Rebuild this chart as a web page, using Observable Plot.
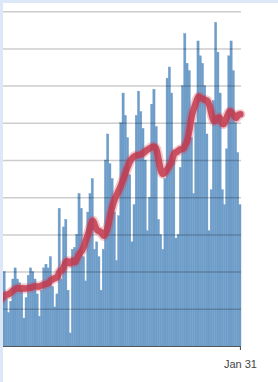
<!DOCTYPE html>
<html><head><meta charset="utf-8">
<script src="https://cdn.jsdelivr.net/npm/d3@7"></script>
<script src="https://cdn.jsdelivr.net/npm/@observablehq/plot@0.6"></script>
<style>
html,body{margin:0;padding:0;background:#dce8f8;width:278px;height:382px;overflow:hidden}
#chart{position:absolute;left:3px;top:3px;width:275px;height:379px;background:#fff}
</style></head><body><div id="chart"></div>
<script>
// Daily reported values, one per day starting at startDate (Oct 10, 2020 → Jan 31, 2021)
const startDate = "2020-10-10";
const dailyValues = [
  650, 400, 400, 750, 900, 775,
  1000, 650,
  450, 600, 900, 1050, 900, 850, 750,
  375, 650, 950, 1050, 1000, 900, 700,
  400, 750, 1050, 1100, 1050, 1200, 800,
  525, 700, 1850, 900, 1600, 1700, 750,
  175, 1300, 1325, 1500, 2050, 1850, 1200,
  875, 1800, 2050, 2250, 1300, 1400, 1200,
  750, 1300, 2500, 2850, 2450, 2250, 1800,
  1150, 1750, 3000, 3400, 3100, 2800, 2300,
  1400, 1900, 3100, 3425, 3150, 2925, 2500,
  1550, 2000, 3250, 3450, 2950, 1700, 1500,
  1300, 2250, 3600, 3750, 3400, 2500, 1450,
  1500, 2400, 3500, 4200, 3800, 3700, 2800,
  2050, 3000, 4100, 3900, 3800, 3500, 2850,
  1550, 2100, 3300, 4350, 3950, 3400, 2100,
  1900, 2650, 3900, 4100, 3700, 3000, 2600,
  1900
];
const gridValues = [500, 1000, 1500, 2000, 2500, 3000, 3500, 4000, 4500];
const xTickDates = ["2021-01-31"];
const xDomain = ["2020-10-15T12:00Z", "2021-01-31T12:00Z"];
const yDomain = [0, 4610];

const data = dailyValues.map((v, i) => ({date: d3.utcDay.offset(new Date(startDate), i), value: v}));

const chart = Plot.plot({
  width: 275, height: 379,
  marginLeft: 0, marginRight: 37, marginTop: 0, marginBottom: 36,
  style: {background: "transparent", fontFamily: "'Liberation Sans', Arial, sans-serif", fontSize: "11px", color: "#444"},
  x: {type: "utc", domain: xDomain.map(d => new Date(d)), ticks: xTickDates.map(d => new Date(d)),
      tickFormat: d3.utcFormat("%b %-d"), tickSize: 4, tickPadding: 10, label: null},
  y: {domain: yDomain, axis: null},
  marks: [
    Plot.rectY(data, {x1: d => d3.utcHour.offset(d.date, -12), x2: d => d3.utcHour.offset(d.date, 12), y: "value",
      fill: "#6e9dc9", stroke: "#6e9dc9", strokeWidth: 0.4}),
    Plot.ruleY(gridValues, {stroke: "#000", strokeOpacity: 0.2, strokeWidth: 1.5}),
    Plot.ruleY([0], {stroke: "#555"}),
    Plot.lineY(data, Plot.windowY({k: 7, anchor: "end"}, {x: "date", y: "value", stroke: "#d04a5e", strokeWidth: 10, strokeOpacity: 0.3, curve: "basis", strokeLinecap: "round"})),
    Plot.lineY(data, Plot.windowY({k: 7, anchor: "end"}, {x: "date", y: "value", stroke: "#c23a4e", strokeWidth: 6.5, strokeOpacity: 0.85, curve: "basis", strokeLinecap: "round"}))
  ]
});
document.getElementById("chart").appendChild(chart);
</script></body></html>
